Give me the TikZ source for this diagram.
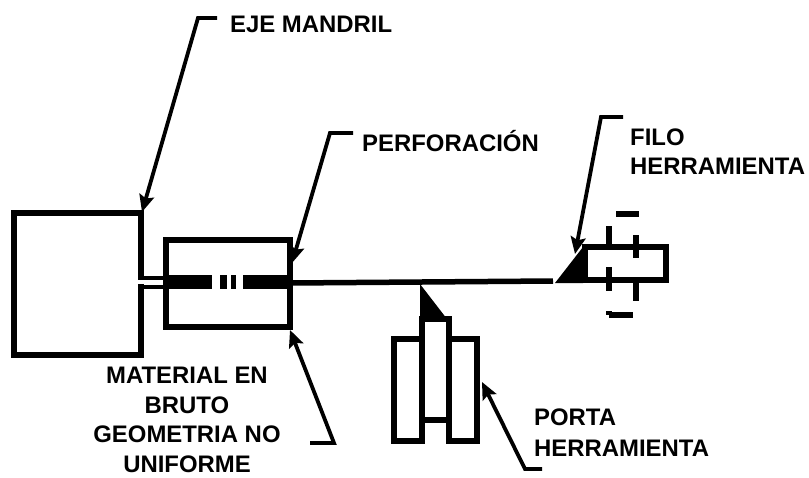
\documentclass[tikz,border=0pt]{standalone}
\usepackage{fontspec}
\setmainfont{Liberation Sans}
\usetikzlibrary{
  arrows.meta
}
\tikzset{
  pieza/.style = {line width = 5.5pt, line cap = rect},
  guia/.style = {line width = 3.8pt, -{Stealth[length = 17pt, width = 15pt, inset = 3pt]}},
  rotulo/.style = {font = \fontsize{23.9}{29.5}\selectfont\bfseries, inner sep = 0pt, align = center}
}

\begin{document}
\begin{tikzpicture}[x = 1pt, y = -1pt]
\useasboundingbox (0,0) rectangle (809,477);

% eje mandril
\draw [pieza] (141,277) -- (141,213) -- (14,213) -- (14,355) -- (141,355) -- (141,287);
\draw [line width = 4.5pt] (141,278) -- (166,278);
\draw [line width = 4.5pt] (141,287) -- (166,287);

% material
\draw [pieza] (166,240) rectangle (290,327);
\fill (166,275) rectangle (212,289);
\fill (220,275) rectangle (227,289);
\fill (231,275) rectangle (236,289);
\fill (243,275) rectangle (288,289);

% barra y filo
\draw [line width = 5.5pt] (290,283) -- (553,281);
\fill (555,283) -- (583,247) -- (583,283) -- cycle;
\draw [pieza] (585,247) rectangle (666,280);

% giro
\draw [pieza, line cap = butt] (616,214) -- (639,214);
\draw [pieza, line cap = butt] (609,226) -- (609,245);
\draw [pieza, line cap = butt] (636,235) -- (636,258);
\draw [pieza, line cap = butt] (609,267) -- (609,291);
\draw [pieza, line cap = butt] (636,282) -- (636,301);
\draw [pieza, line cap = butt] (609,315) -- (633,315);
\draw [pieza, line cap = butt] (609,311) -- (609,315);

% porta
\fill (420,284) -- (420,319) -- (447,319) -- cycle;
\draw [pieza] (422,441) -- (422,319) -- (449,319) -- (449,441);
\draw [pieza] (422,339) -- (394,339) -- (394,441) -- (422,441);
\draw [pieza] (449,339) -- (477,339) -- (477,441) -- (449,441);
\draw [pieza] (422,420) -- (449,420);

% rotulos
\node [rotulo, anchor = west] (eje) at (230,24) {EJE MANDRIL};
\node [rotulo, anchor = west] (perforacion) at (362,141) {PERFORACIÓN};
\node [rotulo, anchor = west] (filo) at (630,137) {FILO};
\node [rotulo, anchor = west] (herramienta) at (630,166) {HERRAMIENTA};
\node [rotulo, anchor = west] (porta) at (534,417) {PORTA};
\node [rotulo, anchor = west] (portaherr) at (534,448) {HERRAMIENTA};
\node [rotulo] (material) at (187,420) {MATERIAL EN\\BRUTO\\GEOMETRIA NO\\UNIFORME};

% guias
\coordinate (ejeA) at (217,18);
\coordinate (ejeB) at (198,18);
\coordinate (ejeC) at (142,212);
\coordinate (perfA) at (353,133);
\coordinate (perfB) at (330,133);
\coordinate (perfC) at (292,263);
\coordinate (filoA) at (623,117);
\coordinate (filoB) at (601,117);
\coordinate (filoC) at (575,254);
\coordinate (matA) at (310,443);
\coordinate (matB) at (334,443);
\coordinate (matC) at (290,330);
\coordinate (portaA) at (542,469);
\coordinate (portaB) at (525,469);
\coordinate (portaC) at (482,382);

\draw [guia] (ejeA) -- (ejeB) -- (ejeC);
\draw [guia] (perfA) -- (perfB) -- (perfC);
\draw [guia] (filoA) -- (filoB) -- (filoC);
\draw [guia] (matA) -- (matB) -- (matC);
\draw [guia] (portaA) -- (portaB) -- (portaC);

\end{tikzpicture}
\end{document}
